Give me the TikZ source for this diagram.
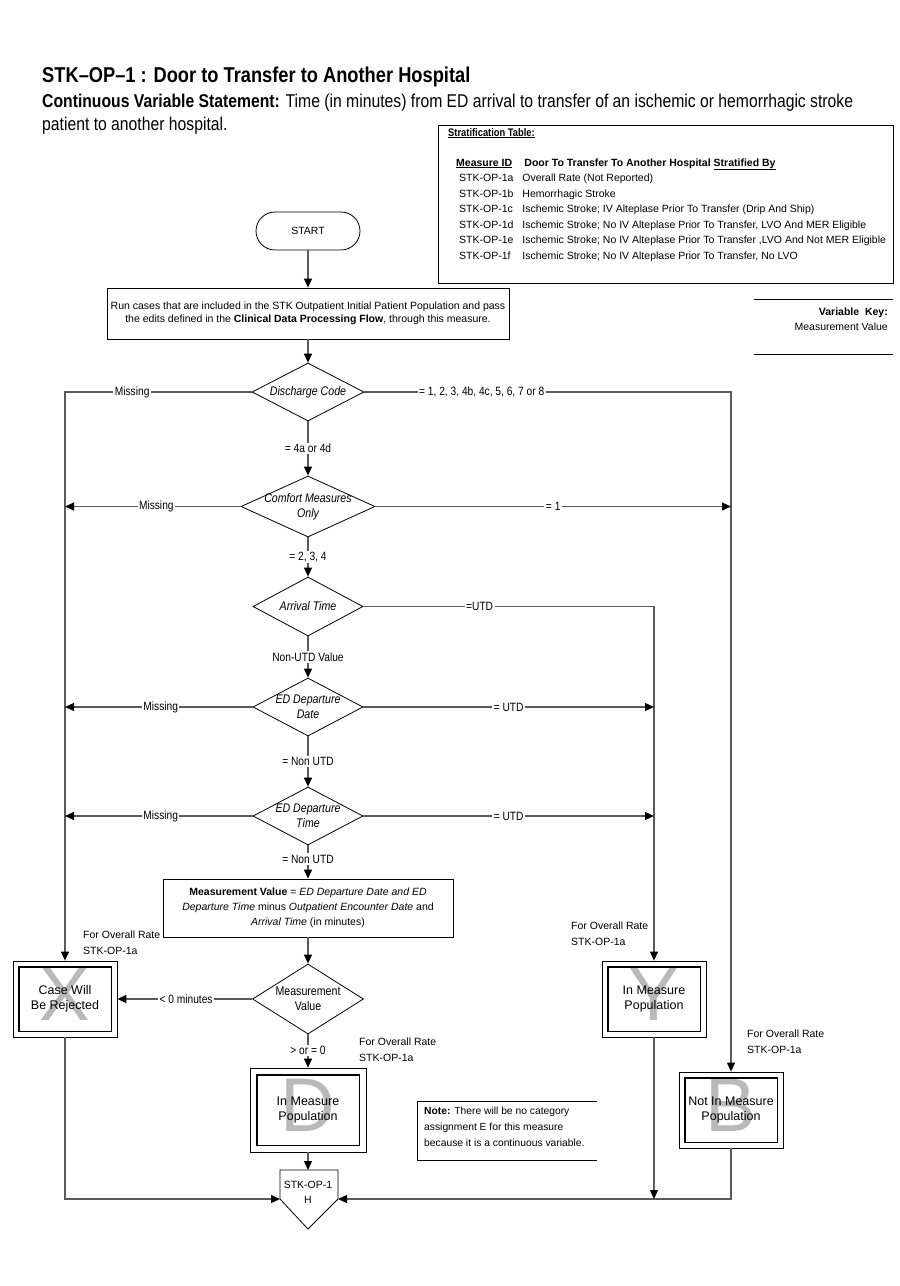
\documentclass[tikz,border=0pt]{standalone}
\usepackage{fontspec}
\setmainfont{Liberation Sans}
\newfontfamily\nar[FakeStretch=0.85]{Liberation Sans}
\usetikzlibrary{arrows.meta,shapes.geometric,fit,calc}
\newcommand\fsz[2]{\fontsize{#1}{#2}\selectfont}
\definecolor{linegray}{RGB}{90,90,90}
\definecolor{biggray}{RGB}{185,185,185}

\begin{document}
\begin{tikzpicture}[x=1pt,y=-1pt,
    box/.style={draw, line width=0.8pt, align=center, font=\fsz{10.5}{13}},
    dec/.style={diamond, draw, line width=0.8pt, inner sep=-4pt, aspect=1.9, align=center, font=\nar\itshape\fsz{12.5}{15}},
    lbl/.style={fill=white, inner sep=1.5pt, font=\nar\fsz{12}{14}},
    arr/.style={draw=linegray, line width=1.2pt, -{Triangle[length=9pt,width=8pt,black]}},
    endbox/.style={draw, line width=0.8pt, minimum width=104, minimum height=76, align=center, font=\fsz{12.5}{15}},
    inbox/.style={draw, line width=1.8pt, inner sep=-6pt},
    big/.style={text=biggray, inner sep=0pt, font=\fsz{76}{80}},
    rate/.style={anchor=north west, align=left, inner sep=0pt, font=\fsz{10.5}{16}},
  ]
  \useasboundingbox (0,0) rectangle (900,1286);

  % heading
  \node [anchor=base west, inner sep=0pt, font=\nar\bfseries\fsz{21.5}{24}] (title) at (42,82)
    {STK–OP–1 : Door to Transfer to Another Hospital};
  \node [anchor=base west, inner sep=0pt, font=\nar\fsz{18.5}{23}] (stmt) at (42,107)
    {\textbf{Continuous Variable Statement:} Time (in minutes) from ED arrival to transfer of an ischemic or hemorrhagic stroke};
  \node [anchor=base west, inner sep=0pt, font=\nar\fsz{18.5}{23}] (stmt2) at (42,130)
    {patient to another hospital.};

  % stratification table
  \node [draw, line width=0.8pt, anchor=north west, minimum width=455, minimum height=158] (strat) at (438,125) {};
  \node [anchor=north west, inner sep=0pt, font=\nar\bfseries\fsz{11}{13}] (sthd) at (448,128) {\underline{Stratification Table:}};
  \node [anchor=north west, inner sep=0pt, align=left, font=\fsz{10.5}{15.5}] (strows) at (456,155) {%
    \begin{tabular}{@{}l@{\hspace{9pt}}l@{}}
      \textbf{\underline{Measure ID}} & \hspace{2pt}\textbf{Door To Transfer To Another Hospital \underline{Stratified By}}\\
      \hspace{3pt}STK-OP-1a & Overall Rate (Not Reported)\\
      \hspace{3pt}STK-OP-1b & Hemorrhagic Stroke\\
      \hspace{3pt}STK-OP-1c & Ischemic Stroke; IV Alteplase Prior To Transfer (Drip And Ship)\\
      \hspace{3pt}STK-OP-1d & Ischemic Stroke; No IV Alteplase Prior To Transfer, LVO And MER Eligible\\
      \hspace{3pt}STK-OP-1e & Ischemic Stroke; No IV Alteplase Prior To Transfer ,LVO And Not MER Eligible\\
      \hspace{3pt}STK-OP-1f & Ischemic Stroke; No IV Alteplase Prior To Transfer, No LVO
    \end{tabular}};

  % variable key
  \draw [line width=0.8pt] (754,299) -- (893,299);
  \draw [line width=0.8pt] (754,354) -- (893,354);
  \node [anchor=north east, inner sep=0pt, align=right, font=\fsz{10.5}{15}] (vkey) at (888,308)
    {\textbf{Variable \ Key:}\\Measurement Value};

  % flow
  \node [box, rounded corners=19pt, minimum width=104, minimum height=38, font=\fsz{10.5}{12}] (start) at (308,231) {START};
  \node [box, minimum width=402, minimum height=51] (run) at (308,313.5)
    {Run cases that are included in the STK Outpatient Initial Patient Population and pass\\
     the edits defined in the \textbf{Clinical Data Processing Flow}, through this measure.};
  \node [dec, minimum width=112, minimum height=58] (dc) at (308,392) {Discharge Code};
  \node [dec, minimum width=134, minimum height=61] (cm) at (308,506.5) {Comfort Measures\\Only};
  \node [dec, minimum width=110, minimum height=59] (at) at (308,606.5) {Arrival Time};
  \node [dec, minimum width=110, minimum height=58] (edd) at (308,707) {ED Departure\\Date};
  \node [dec, minimum width=110, minimum height=58] (edt) at (308,816) {ED Departure\\Time};
  \node [box, minimum width=290, minimum height=58, font=\fsz{10.5}{15}] (mval) at (308,908)
    {\textbf{Measurement Value} = \textit{ED Departure Date and ED}\\
     \textit{Departure Time} minus \textit{Outpatient Encounter Date} and\\
     \textit{Arrival Time} (in minutes)};
  \node [dec, minimum width=111, minimum height=70, font=\nar\fsz{12.5}{15}] (mv) at (308,999) {Measurement\\Value};

  % end boxes
  \node [big] at (65,994) {X};
  \node [endbox] (xbox) at (65,999) {Case Will\\Be Rejected};
  \node [inbox, fit=(xbox)] {};
  \node [big] at (654,994) {Y};
  \node [endbox] (ybox) at (654,999) {In Measure\\Population};
  \node [inbox, fit=(ybox)] {};
  \node [big] at (731,1105) {B};
  \node [endbox] (bbox) at (731,1110) {Not In Measure\\Population};
  \node [inbox, fit=(bbox)] {};
  \node [big] at (308,1105) {D};
  \node [endbox, minimum width=116, minimum height=84] (dbox) at (308,1110) {In Measure\\Population};
  \node [inbox, inner sep=-7pt, fit=(dbox)] {};

  \node [rate] (xrate) at (83,931) {For Overall Rate\\STK-OP-1a};
  \node [rate] (yrate) at (571,922) {For Overall Rate\\STK-OP-1a};
  \node [rate] (brate) at (747,1030) {For Overall Rate\\STK-OP-1a};
  \node [rate] (drate) at (359,1038) {For Overall Rate\\STK-OP-1a};

  % note
  \draw [line width=0.8pt] (597,1101) -- (417,1101) -- (417,1160) -- (597,1160);
  \node [anchor=north west, inner sep=0pt, align=left, font=\fsz{10.3}{16}] (note) at (424,1107)
    {\textbf{Note:} There will be no category\\assignment E for this measure\\because it is a continuous variable.};

  % STK-OP-1 H connector
  \coordinate (ht) at (308,1170);
  \coordinate (hl) at (280,1199);
  \coordinate (hr) at (338,1199);
  \draw [line width=0.8pt] (280,1170) -- (338,1170) -- (hr) -- (308,1229) -- (hl) -- cycle;
  \node [align=center, font=\fsz{10.5}{15}] (h) at (308,1192) {STK-OP-1\\H};

  % connectors
  \draw [arr] (start) -- (run);
  \draw [arr] (run) -- (dc);
  \draw [arr] (dc.west) -| node[lbl, pos=.32] {Missing} (xbox.north);
  \draw [arr] (dc.east) -| node[lbl, pos=.16] {= 1, 2, 3, 4b, 4c, 5, 6, 7 or 8} (bbox.north);
  \draw [arr] (dc) -- node[lbl] {= 4a or 4d} (cm);
  \draw [arr] (cm.west) -- node[lbl, pos=.48] {Missing} (cm.west -| xbox.north);
  \draw [arr] (cm.east) -- node[lbl] {= 1} (cm.east -| bbox.north);
  \draw [arr] (cm) -- node[lbl] {= 2, 3, 4} (at);
  \draw [arr] (at.east) -| node[lbl, pos=.2] {=UTD} (ybox.north);
  \draw [arr] (at) -- node[lbl] {Non-UTD Value} (edd);
  \draw [arr] (edd.west) -- node[lbl, pos=.49] {Missing} (edd.west -| xbox.north);
  \draw [arr] (edd.east) -- node[lbl, pos=.5] {= UTD} (edd.east -| ybox.north);
  \draw [arr] (edd) -- node[lbl] {= Non UTD} (edt);
  \draw [arr] (edt.west) -- node[lbl, pos=.49] {Missing} (edt.west -| xbox.north);
  \draw [arr] (edt.east) -- node[lbl, pos=.5] {= UTD} (edt.east -| ybox.north);
  \draw [arr] (edt) -- node[lbl, pos=.41] {= Non UTD} (mval);
  \draw [arr] (mval) -- (mv);
  \draw [arr] (mv.west) -- node[lbl, pos=.49] {< 0 minutes} (xbox.east);
  \draw [arr] (mv) -- node[lbl, pos=.48] {> or = 0} (dbox);
  \draw [arr] (dbox) -- (ht);
  \draw [arr] (xbox.south) |- (hl);
  \draw [arr] (bbox.south) |- (hr);
  \draw [arr] (ybox.south) -- (ybox.south |- hr);
\end{tikzpicture}
\end{document}
